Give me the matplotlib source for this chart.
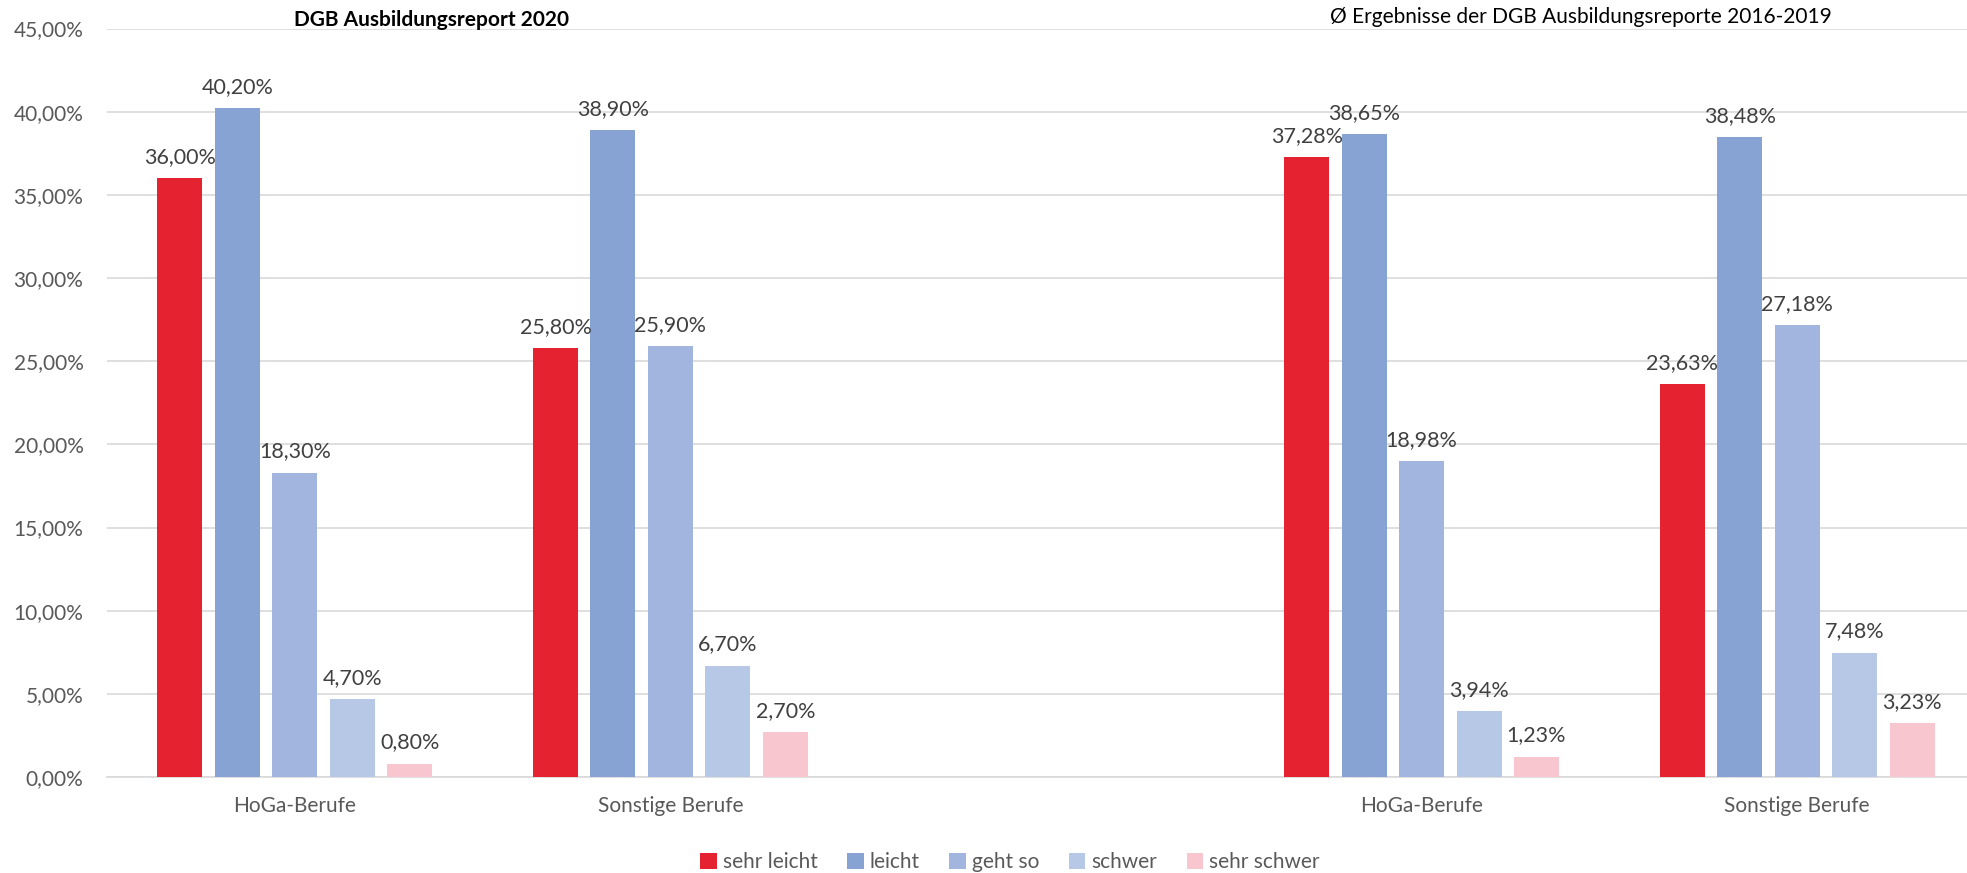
import numpy as np
import matplotlib
matplotlib.use("Agg")
import matplotlib.pyplot as plt
from matplotlib.ticker import FuncFormatter

plt.rcParams['font.family'] = ['Lato', 'DejaVu Sans']

categories = ["HoGa-Berufe", "Sonstige Berufe", "", "HoGa-Berufe", "Sonstige Berufe"]
series_names = ["sehr leicht", "leicht", "geht so", "schwer", "sehr schwer"]
sehr_leicht = [36.00, 25.80, np.nan, 37.28, 23.63]
leicht = [40.20, 38.90, np.nan, 38.65, 38.48]
geht_so = [18.30, 25.90, np.nan, 18.98, 27.18]
schwer = [4.70, 6.70, np.nan, 3.94, 7.48]
sehr_schwer = [0.80, 2.70, np.nan, 1.23, 3.23]
series_values = [sehr_leicht, leicht, geht_so, schwer, sehr_schwer]
colors = ["#E52330", "#87A3D3", "#A1B5DE", "#B6C8E6", "#F7C6CE"]
title_left = "DGB Ausbildungsreport 2020"
title_right = "Ø Ergebnisse der DGB Ausbildungsreporte 2016-2019"

def fmt(v):
    return f"{v:.2f}".replace(".", ",") + "%"

W, H = 1967, 873
fig = plt.figure(figsize=(W / 100, H / 100), dpi=100)
ax = fig.add_axes([107 / W, 1 - 777 / H, (1985 - 107) / W, (777 - 28.5) / H])

x = np.arange(len(categories))
bw = 0.12
step = 0.153
for i, (name, vals, c) in enumerate(zip(series_names, series_values, colors)):
    off = (i - 2) * step
    ax.bar(x + off, vals, width=bw, color=c, label=name, zorder=3)
    for xi, v in zip(x + off, vals):
        if not np.isnan(v):
            ax.annotate(fmt(v), (xi, v), xytext=(0, 8), textcoords="offset points",
                        ha="center", va="bottom", fontsize=15.5, color="#404040", zorder=4)

ax.set_xlim(-0.5, len(categories) - 0.5)
ax.set_ylim(0, 45)
ax.set_yticks(np.arange(0, 46, 5))
ax.yaxis.set_major_formatter(FuncFormatter(lambda v, p: fmt(v)))
ax.set_xticks(x)
ax.set_xticklabels(categories)
ax.grid(axis="y", color="#D9D9D9", linewidth=1.2, zorder=0)
for s in ["top", "right", "left"]:
    ax.spines[s].set_visible(False)
ax.spines["bottom"].set_color("#D9D9D9")
ax.spines["bottom"].set_linewidth(1.2)
ax.tick_params(axis="both", length=0, labelsize=15, labelcolor="#595959")
ax.tick_params(axis="y", pad=17)
ax.tick_params(axis="x", pad=14)

fig.text(431 / W, 1 - 20 / H, title_left, ha="center", va="center",
         fontsize=15, fontweight="bold", color="black")
fig.text(1581 / W, 1 - 17 / H, title_right, ha="center", va="center",
         fontsize=15, color="black")

leg = fig.legend(loc="center", bbox_to_anchor=(1010 / W, 1 - 862 / H), ncol=5,
                 frameon=False, fontsize=15, handlelength=0.8, handleheight=0.8,
                 handletextpad=0.3, columnspacing=1.4, labelcolor="#595959")

fig.savefig("out.png", dpi=100)
